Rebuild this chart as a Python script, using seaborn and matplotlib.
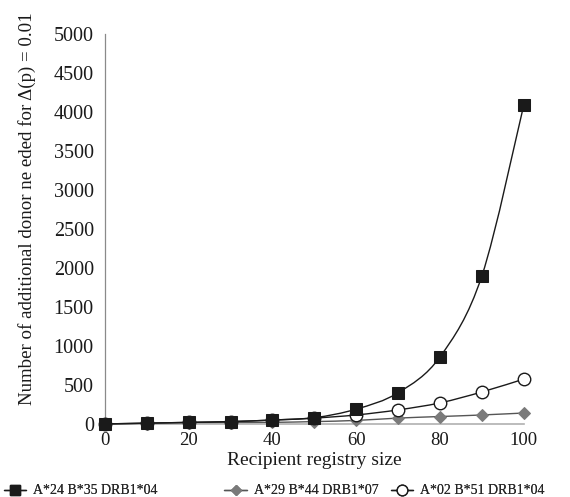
import numpy as np
import pandas as pd
import matplotlib
matplotlib.use("Agg")
import matplotlib.pyplot as plt
from matplotlib.path import Path
from matplotlib.patches import PathPatch
import seaborn as sns

sns.set_theme(style="white")
plt.rcParams["font.family"] = ["Liberation Serif", "DejaVu Serif"]

# registry sizes and donors needed per haplotype
registry_size = [0, 10, 20, 30, 40, 50, 60, 70, 80, 90, 100]
a24_b35_drb104 = [0, 10, 20, 30, 50, 80, 190, 400, 860, 1900, 4090]
a29_b44_drb107 = [0, 5, 10, 15, 20, 30, 45, 75, 95, 115, 140]
a02_b51_drb104 = [0, 10, 20, 30, 50, 75, 115, 180, 270, 410, 575]

labels = ["A*24 B*35 DRB1*04", "A*29 B*44 DRB1*07", "A*02 B*51 DRB1*04"]
x_ticks = [0, 20, 40, 60, 80, 100]
y_ticks = list(range(0, 5001, 500))


def smooth_path(xs, ys):
    # Excel-style smoothed line: Catmull-Rom segments as cubic Beziers
    pts = np.column_stack([xs, ys]).astype(float)
    padded = np.vstack([pts[0], pts, pts[-1]])
    verts = [pts[0]]
    codes = [Path.MOVETO]
    for i in range(1, len(padded) - 2):
        p0, p1, p2, p3 = padded[i - 1], padded[i], padded[i + 1], padded[i + 2]
        verts += [p1 + (p2 - p0) / 6, p2 - (p3 - p1) / 6, p2]
        codes += [Path.CURVE4] * 3
    return Path(verts, codes)


fig = plt.figure(figsize=(5.7, 4.97), dpi=100)
ax = fig.add_axes([0.184, 0.147, 0.735, 0.785])

series = [
    (labels[1], a29_b44_drb107, dict(color="#555555", marker="D", markersize=6,
                                     markerfacecolor="#7a7a7a", markeredgecolor="#7a7a7a"), 3),
    (labels[2], a02_b51_drb104, dict(color="#1a1a1a", marker="o", markersize=9,
                                     markerfacecolor="white", markeredgecolor="#1a1a1a",
                                     markeredgewidth=1.0), 4),
    (labels[0], a24_b35_drb104, dict(color="#1a1a1a", marker="s", markersize=8,
                                     markerfacecolor="#1a1a1a", markeredgecolor="#1a1a1a"), 5),
]

handles = {}
for name, ys, style, z in series:
    # smoothed connecting line
    ax.add_patch(PathPatch(smooth_path(registry_size, ys), fill=False,
                           edgecolor=style["color"], lw=1.0, zorder=z - 0.5,
                           clip_on=False))
    # markers
    sns.lineplot(x=registry_size, y=ys, ax=ax, linestyle="none", clip_on=False,
                 zorder=z, legend=False, **style)
    handles[name] = plt.Line2D([], [], lw=1.0, **style)

ax.set_xlim(0, 100)
ax.set_ylim(0, 5000)
ax.set_xticks(x_ticks)
ax.set_yticks(y_ticks)
ax.tick_params(axis="both", length=0, colors="#1a1a1a")
ax.tick_params(axis="x", pad=6, labelsize=13.5)
ax.tick_params(axis="y", pad=8, labelsize=14.5)

for side in ["top", "right"]:
    ax.spines[side].set_visible(False)
ax.spines["left"].set_color("#8a8a8a")
ax.spines["left"].set_linewidth(0.9)
ax.spines["bottom"].set_color("#b0b0b0")
ax.spines["bottom"].set_linewidth(1.2)

ax.set_xlabel("Recipient registry size", fontsize=14, color="#1a1a1a", labelpad=2)
ax.set_ylabel("Number of additional donor ne eded for \u0394(p) = 0.01",
              fontsize=13.6, color="#1a1a1a")
ax.yaxis.set_label_coords(-0.165, 0.553)

# three separately placed legend entries, like the source layout
legend_x = [-0.003, 0.384, 0.676]
for lab, lx in zip(labels, legend_x):
    leg = fig.legend([handles[lab]], [lab], loc="lower left",
                     bbox_to_anchor=(lx, -0.012), frameon=False, fontsize=10,
                     handlelength=1.6, handletextpad=0.5, markerscale=0.85,
                     borderaxespad=0.0)
    fig.add_artist(leg)

fig.savefig("out.png", dpi=100)
